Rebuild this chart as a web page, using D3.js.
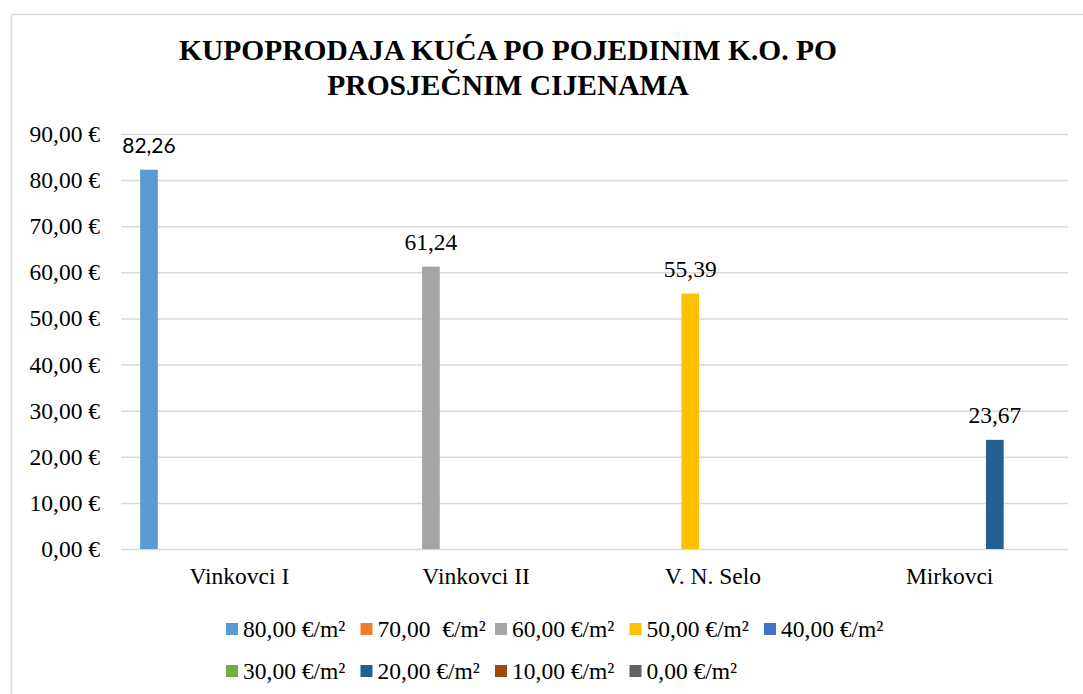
<!DOCTYPE html>
<html>
<head>
<meta charset="utf-8">
<script src="https://cdn.jsdelivr.net/npm/d3@7"></script>
<style>
  body { margin: 0; background: #fff; }
  svg { display: block; }
</style>
</head>
<body>
<svg width="1083" height="694"></svg>
<script>
const categories = ['Vinkovci I', 'Vinkovci II', 'V. N. Selo', 'Mirkovci'];
const seriesNames = ['80,00 €/m²', '70,00  €/m²', '60,00 €/m²', '50,00 €/m²', '40,00 €/m²',
    '30,00 €/m²', '20,00 €/m²', '10,00 €/m²', '0,00 €/m²'];
const seriesColors = ['#5B9BD5', '#ED7D31', '#A5A5A5', '#FFC000', '#4472C4',
    '#70AD47', '#255E91', '#9E480E', '#636363'];
// one row per series, one value per category (null = no bar)
const seriesValues = [
    [82.26, null, null, null],
    [null, null, null, null],
    [null, 61.24, null, null],
    [null, null, 55.39, null],
    [null, null, null, null],
    [null, null, null, null],
    [null, null, null, 23.67],
    [null, null, null, null],
    [null, null, null, null]
];
const yTicks = [0, 10, 20, 30, 40, 50, 60, 70, 80, 90];
const titleLines = ['KUPOPRODAJA KUĆA PO POJEDINIM K.O. PO', 'PROSJEČNIM CIJENAMA'];

const svg = d3.select('svg');
const width = 1083;
const height = 694;
const serifFont = 'Liberation Serif';
const fontSize = 23.5;
const gridColor = '#d9d9d9';

const margin = { top: 134, right: 15, bottom: 145, left: 121 };
const innerWidth = width - margin.left - margin.right;
const innerHeight = height - margin.top - margin.bottom;

const fmt = v => v.toFixed(2).replace('.', ',');

// chart frame: only the top and left edges fall inside the picture
svg.append('path')
    .attr('d', `M11.5,${height}V14.5H${width}`)
    .attr('fill', 'none')
    .attr('stroke', gridColor)
    .attr('stroke-width', 1.5);

svg.append('text')
    .attr('font-family', serifFont)
    .attr('font-weight', 'bold')
    .attr('font-size', 29.5)
    .attr('text-anchor', 'middle')
    .selectAll('tspan')
    .data(titleLines)
    .join('tspan')
    .attr('x', 508)
    .attr('y', (d, i) => 60 + i * 35)
    .text(d => d);

const x0 = d3.scaleBand()
    .domain(categories)
    .range([0, innerWidth]);

const x1 = d3.scaleBand()
    .domain(d3.range(seriesNames.length))
    .range([0, x0.bandwidth()])
    .paddingInner(0.217)
    .paddingOuter(0.846);

const yScale = d3.scaleLinear()
    .domain([0, 90])
    .range([innerHeight, 0]);

const g = svg.append('g')
    .attr('transform', `translate(${margin.left},${margin.top})`);

const yAxis = d3.axisLeft(yScale)
    .tickValues(yTicks)
    .tickSize(-innerWidth)
    .tickPadding(21)
    .tickFormat(d => fmt(d) + ' €');

const yAxisG = g.append('g').call(yAxis)
    .attr('font-family', serifFont)
    .attr('font-size', fontSize);
yAxisG.select('.domain').remove();
yAxisG.selectAll('line').attr('stroke', gridColor).attr('stroke-width', 1.5);
yAxisG.selectAll('text').attr('fill', '#000');

const xAxisG = g.append('g')
    .attr('transform', `translate(0,${innerHeight})`)
    .call(d3.axisBottom(x0).tickSize(0).tickPadding(18))
    .attr('font-family', serifFont)
    .attr('font-size', fontSize);
xAxisG.select('.domain').remove();
xAxisG.selectAll('text').attr('fill', '#000');

const bars = [];
seriesValues.forEach((vals, s) => {
    vals.forEach((v, c) => {
        if (v != null) bars.push({ s, c, v });
    });
});

g.selectAll('.bar')
    .data(bars)
    .join('rect')
    .attr('class', 'bar')
    .attr('x', d => x0(categories[d.c]) + x1(d.s))
    .attr('width', x1.bandwidth())
    .attr('y', d => yScale(d.v))
    .attr('height', d => innerHeight - yScale(d.v))
    .attr('fill', d => seriesColors[d.s]);

// the first label is set in a sans face in the original
g.selectAll('.bar-label')
    .data(bars)
    .join('text')
    .attr('class', 'bar-label')
    .attr('x', d => x0(categories[d.c]) + x1(d.s) + x1.bandwidth() / 2)
    .attr('y', d => yScale(d.v) - 17)
    .attr('text-anchor', 'middle')
    .attr('font-family', d => d.c === 0 ? 'Lato' : serifFont)
    .attr('font-size', d => d.c === 0 ? 21 : fontSize)
    .attr('fill', '#000')
    .text(d => fmt(d.v));

// legend, two rows on a fixed column grid
const legend = svg.append('g')
    .attr('font-family', serifFont)
    .attr('font-size', fontSize);
const perRow = 5;
const item = legend.selectAll('g')
    .data(seriesNames)
    .join('g')
    .attr('transform', (d, i) => `translate(${226 + (i % perRow) * 134.5},${623 + Math.floor(i / perRow) * 42})`);

item.append('rect')
    .attr('width', 12)
    .attr('height', 12)
    .attr('fill', (d, i) => seriesColors[i]);

item.append('text')
    .attr('x', 17)
    .attr('y', 14)
    .attr('fill', '#000')
    .style('white-space', 'pre')
    .text(d => d);
</script>
</body>
</html>
